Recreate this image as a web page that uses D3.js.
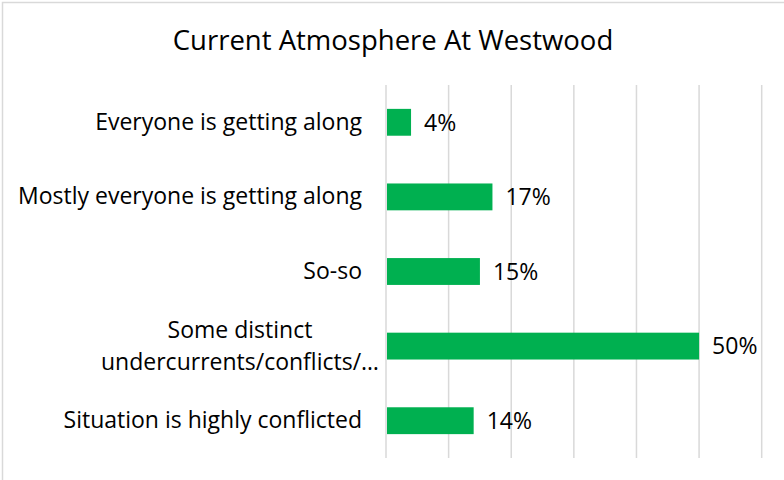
<!DOCTYPE html>
<html>
<head>
<meta charset="utf-8">
<script src="https://cdn.jsdelivr.net/npm/d3@7"></script>
<style>
  html, body { margin: 0; padding: 0; background: #fff; }
  svg { display: block; }
</style>
</head>
<body>
<svg id="chart" width="784" height="480"></svg>
<script>
// Survey responses, top to bottom
const categories = [
  ["Everyone is getting along"],
  ["Mostly everyone is getting along"],
  ["So-so"],
  ["Some distinct", "undercurrents/conflicts/\u2026"],
  ["Situation is highly conflicted"]
];
const values = [4, 17, 15, 50, 14];          // percent
const tickValues = [0, 10, 20, 30, 40, 50, 60];
const title = "Current Atmosphere At Westwood";

const FONT = "'Open Sans', Lato, sans-serif";
const svg = d3.select("#chart");

// Chart frame (top and left edges visible)
svg.append("path")
  .attr("d", "M2.5,480 V2.5 H784")
  .attr("fill", "none")
  .attr("stroke", "#d9d9d9")
  .attr("stroke-width", 1.5);

svg.append("text")
  .attr("x", 393)
  .attr("y", 50)
  .attr("text-anchor", "middle")
  .attr("font-family", FONT)
  .attr("font-size", 27.5)
  .attr("fill", "#000")
  .text(title);

const plot = { left: 386, right: 761.7, top: 85, bottom: 458 };

const x = d3.scaleLinear().domain([0, 60]).range([plot.left, plot.right]);
const y = d3.scaleBand()
  .domain(d3.range(categories.length))
  .range([plot.top, plot.bottom])
  .paddingInner(0.64)
  .paddingOuter(0.32);

// Vertical gridlines
svg.append("g")
  .selectAll("line")
  .data(tickValues)
  .join("line")
  .attr("x1", d => x(d))
  .attr("x2", d => x(d))
  .attr("y1", plot.top)
  .attr("y2", plot.bottom)
  .attr("stroke", "#d9d9d9")
  .attr("stroke-width", 1.5);

// Bars
svg.append("g")
  .selectAll("rect")
  .data(values)
  .join("rect")
  .attr("x", x(0) + 1)
  .attr("y", (d, i) => y(i))
  .attr("width", d => x(d) - x(0) - 1)
  .attr("height", y.bandwidth())
  .attr("fill", "#00b050");

// Value labels
svg.append("g")
  .selectAll("text")
  .data(values)
  .join("text")
  .attr("x", d => x(d) + 13)
  .attr("y", (d, i) => y(i) + y.bandwidth() / 2)
  .attr("dy", "0.36em")
  .attr("font-family", FONT)
  .attr("font-size", 23)
  .attr("fill", "#000")
  .text(d => d + "%");

// Category labels
const catG = svg.append("g")
  .attr("font-family", FONT)
  .attr("font-size", 23)
  .attr("fill", "#000");

categories.forEach((lines, i) => {
  const cy = y(i) + y.bandwidth() / 2;
  const lh = 32;
  const t = catG.append("text")
    .attr("text-anchor", lines.length > 1 ? "middle" : "end");
  if (lines.length === 1) {
    t.attr("x", 362).attr("y", cy).attr("dy", "0.33em").text(lines[0]);
  } else {
    lines.forEach((ln, k) => {
      t.append("tspan")
        .attr("x", 240)
        .attr("y", cy + (k - (lines.length - 1) / 2) * lh)
        .attr("dy", "0.33em")
        .text(ln);
    });
  }
});
</script>
</body>
</html>
